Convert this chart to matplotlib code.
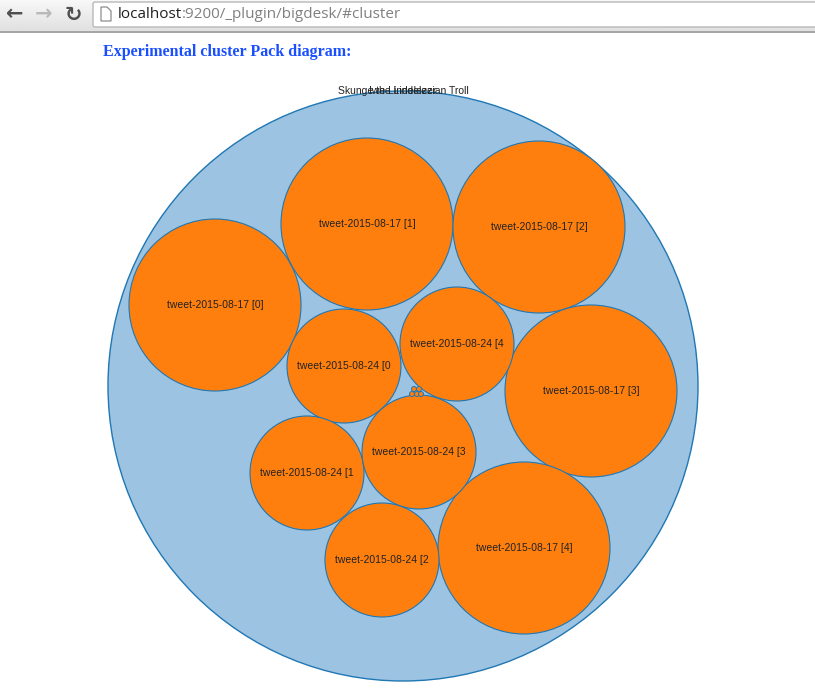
import numpy as np
import matplotlib.pyplot as plt
from matplotlib.patches import Circle, Rectangle, FancyBboxPatch, Polygon

W, H = 815, 697

# pack layout, in pixels
outer = (403, 386, 295)

shard_labels = ['tweet-2015-08-17 [0]', 'tweet-2015-08-17 [1]', 'tweet-2015-08-17 [2]',
                'tweet-2015-08-17 [3]', 'tweet-2015-08-17 [4]', 'tweet-2015-08-24 [0',
                'tweet-2015-08-24 [1', 'tweet-2015-08-24 [2', 'tweet-2015-08-24 [3',
                'tweet-2015-08-24 [4']
shard_x = [215, 367, 539, 591, 524, 344, 307, 382, 419, 457]
shard_y = [305, 224, 227, 391, 548, 366, 473, 560, 452, 344]
shard_r = [86, 86, 86, 86, 86, 57, 57, 57, 57, 57]

node_x = [414, 419, 412, 417, 421]
node_y = [389, 389, 394, 394, 394]
node_r = [2.5, 2.5, 2.5, 2.5, 2.5]

node_labels = ['Skunge the Lindelezian Troll', 'Iwe Lindelezer']

BLUE = '#1f77b4'
FILL = '#9cc3e1'
ORANGE = '#ff7f0e'

fig = plt.figure(figsize=(W / 100, H / 100), dpi=100)
ax = fig.add_axes([0, 0, 1, 1])
ax.set_xlim(0, W)
ax.set_ylim(H, 0)
ax.axis('off')

# browser toolbar
grad = np.linspace(0.97, 0.88, 30).reshape(-1, 1)
ax.imshow(grad, extent=(0, W, 31, 0), cmap='gray', vmin=0, vmax=1, aspect='auto', zorder=1)
ax.set_xlim(0, W)
ax.set_ylim(H, 0)
ax.add_patch(Rectangle((0, 31), W, 1.5, color='#a6a6a6', lw=0, zorder=2))
ax.add_patch(FancyBboxPatch((93, 2), W, 25, boxstyle='round,pad=0,rounding_size=2',
                            fc='white', ec='#b8b8b8', lw=1, zorder=2))
ax.text(15, 14.5, '\u2190', fontsize=15, fontweight='bold', color='#505050', ha='center', va='center', zorder=3)
ax.text(44, 14.5, '\u2192', fontsize=15, fontweight='bold', color='#b9b9b9', ha='center', va='center', zorder=3)
ax.text(73, 14.5, '\u21bb', fontsize=15, fontweight='bold', color='#505050', ha='center', va='center', zorder=3)
ax.add_patch(Polygon([(101, 7), (107, 7), (111, 11), (111, 21), (101, 21)], closed=True,
                     fc='white', ec='#8c8c8c', lw=0.9, zorder=3))

url = ax.text(118, 15, 'localhost', fontsize=11.0, family='Open Sans', color='#202020', va='center', zorder=3)
fig.canvas.draw()
box = url.get_window_extent()
ax.text(box.x1 / fig.dpi * 100, 15, ':9200/_plugin/bigdesk/#cluster', fontsize=11.0, family='Open Sans',
        color='#808080', va='center', zorder=3)

ax.text(103, 56, 'Experimental cluster Pack diagram:', fontsize=11.5, family='Liberation Serif',
        fontweight='bold', color='#1a4fff', zorder=3)

# pack diagram
ax.add_patch(Circle(outer[:2], outer[2], fc=FILL, ec=BLUE, lw=1.0, zorder=3))
for x, y, r in zip(shard_x, shard_y, shard_r):
    ax.add_patch(Circle((x, y), r, fc=ORANGE, ec=BLUE, lw=0.8, zorder=4))
for x, y, r in zip(node_x, node_y, node_r):
    ax.add_patch(Circle((x, y), r, fc=ORANGE, ec=BLUE, lw=0.7, zorder=5))
for lab, x, y in zip(shard_labels, shard_x, shard_y):
    ax.text(x, y, lab, fontsize=7.5, family='Liberation Sans', color='#222222',
            ha='center', va='center', zorder=6)
for lab in node_labels:
    ax.text(outer[0], 91, lab, fontsize=7.5, family='Liberation Sans', color='#222222',
            ha='center', va='center', zorder=6)

fig.savefig('out.png', dpi=100)
plt.close()
